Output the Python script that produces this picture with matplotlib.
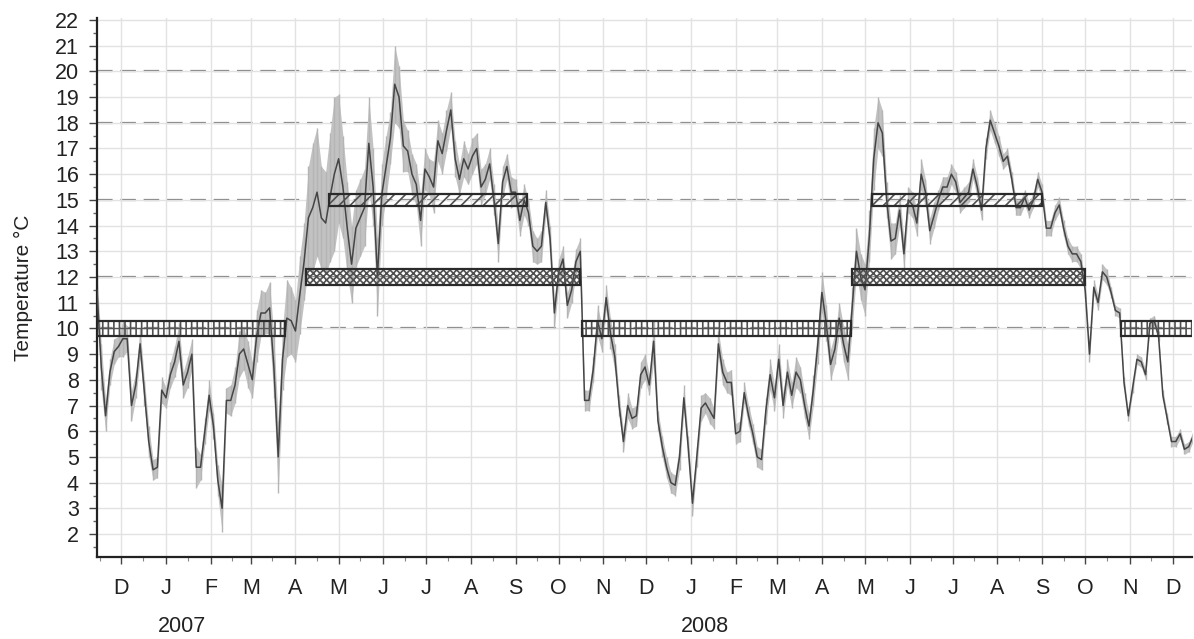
import matplotlib
matplotlib.use("Agg")

import matplotlib.pyplot as plt
import matplotlib.dates as mdates
from matplotlib.ticker import MultipleLocator, FuncFormatter
from matplotlib.transforms import blended_transform_factory
import numpy as np
import pandas as pd

plt.rcParams["font.family"] = ["Liberation Sans", "DejaVu Sans"]
plt.rcParams["hatch.linewidth"] = 1.2

# water temperature, sampled every 3 days from 2006-11-14
START_DATE = "2006-11-14"
STEP_DAYS = 3

temp_mean = [
    11.5, 8.5, 6.6, 8.3, 9.1, 9.3, 9.6, 9.6, 7.0, 7.8,
    9.4, 7.5, 5.6, 4.5, 4.6, 7.6, 7.3, 8.2, 8.7, 9.5,
    7.8, 8.3, 9.0, 4.6, 4.6, 6.0, 7.4, 6.2, 4.1, 3.0,
    7.2, 7.2, 7.8, 9.0, 9.2, 8.6, 8.0, 9.7, 10.6, 10.6,
    10.8, 8.5, 5.0, 8.8, 10.4, 10.3, 9.9, 11.3, 12.6,
    14.3, 14.7, 15.3, 14.3, 14.1, 15.1, 16.0, 16.6, 15.5, 13.9, 12.5,
    13.9, 14.3, 14.7, 17.2, 15.5, 12.0, 15.2, 16.3, 17.4, 19.5,
    19.0, 17.1, 16.9, 16.0, 15.6, 14.2, 16.2, 15.9, 15.5, 17.3,
    16.8, 17.7, 18.5, 16.6, 15.8, 16.6, 16.2, 16.7, 17.0, 15.5,
    15.8, 16.4, 15.0, 13.3, 15.7, 16.3, 15.3, 15.3, 14.2, 15.0,
    14.5, 13.2, 13.0, 13.2, 14.9, 13.5, 10.6, 12.2, 12.7, 10.9,
    11.5, 12.6, 13.0,
    7.2, 7.2, 8.4, 10.3, 9.6, 11.2, 9.8,
    8.9, 7.0, 5.6, 7.0, 6.5, 6.6, 8.2, 8.5, 7.8, 9.5,
    6.4, 5.4, 4.6, 4.0, 3.9, 5.0, 7.3, 5.4, 3.2, 5.0,
    6.9, 7.1, 6.8, 6.5, 9.4, 8.3, 7.9, 7.9, 5.9, 6.0,
    7.5, 6.6, 5.9, 5.0, 4.9, 6.8, 8.2, 7.3, 8.8, 7.0,
    8.3, 7.4, 8.3, 8.0, 7.0, 6.2, 7.6, 9.3, 11.4, 10.2,
    8.6, 9.2, 10.4, 9.4, 8.7, 10.8, 13.0, 12.0, 11.5,
    13.6, 16.6, 18.0, 17.6, 15.0, 13.4, 13.5, 14.6, 12.9, 15.0, 14.8,
    14.1, 16.0, 15.3, 13.8, 14.4, 15.0, 15.5, 15.5, 16.0, 15.7,
    14.9, 15.1, 15.3, 16.2, 15.5, 14.6, 17.0, 18.1, 17.6, 17.1,
    16.5, 16.7, 15.8, 14.7, 14.7, 15.1, 14.6, 15.0, 15.8, 15.3,
    13.9, 13.9, 14.5, 14.8, 13.9, 13.2, 12.9, 12.9, 12.6, 11.5,
    9.0, 11.6, 11.0, 12.2, 12.0, 11.4, 10.7, 10.6, 7.9, 6.6,
    7.7, 8.8, 8.7, 8.2, 10.2, 10.3, 9.7, 7.4, 6.5, 5.6,
    5.6, 5.9, 5.3, 5.4, 5.8,
]

# half width of the lighter min/max trace
temp_spread = [
    0.6, 0.9, 0.6, 0.5, 0.5, 0.4, 0.7, 0.5, 0.6, 0.5,
    0.6, 0.5, 0.6, 0.4, 0.4, 0.5, 0.4, 0.5, 0.6, 0.7,
    0.5, 0.6, 0.6, 0.8, 0.5, 0.5, 0.6, 0.5, 0.6, 0.9,
    0.5, 0.6, 0.7, 0.9, 0.8, 0.9, 0.7, 1.0, 0.9, 0.8,
    1.0, 1.2, 1.4, 1.2, 1.5, 1.3, 1.2, 1.5, 1.5, 2.0,
    2.5, 2.5, 2.0, 2.0, 2.5, 3.0, 2.5, 2.0, 1.8, 1.5,
    1.5, 1.5, 1.5, 1.8, 1.5, 1.5, 1.2, 1.2, 1.0, 1.5,
    1.2, 1.0, 0.8, 0.8, 0.8, 1.0, 0.8, 0.7, 1.0, 0.8,
    0.8, 0.8, 0.7, 0.7, 0.6, 0.7, 0.6, 0.7, 0.6, 0.7,
    0.6, 0.6, 0.6, 0.7, 0.6, 0.5, 0.6, 0.5, 0.6, 0.6,
    0.5, 0.6, 0.5, 0.6, 0.5, 0.5, 0.6, 0.5, 0.5, 0.5,
    0.5, 0.5, 0.5, 0.4, 0.4, 0.5, 0.6, 0.5, 0.5, 0.6,
    0.5, 0.4, 0.4, 0.5, 0.4, 0.4, 0.5, 0.5, 0.4, 0.8,
    0.4, 0.4, 0.4, 0.4, 0.4, 0.5, 0.5, 0.4, 0.5, 0.4,
    0.5, 0.4, 0.5, 0.4, 0.5, 0.5, 0.4, 0.5, 0.4, 0.4,
    0.4, 0.4, 0.4, 0.4, 0.4, 0.5, 0.6, 0.5, 0.6, 0.5,
    0.5, 0.5, 0.6, 0.5, 0.5, 0.5, 0.6, 0.7, 0.8, 0.7,
    0.6, 0.6, 0.6, 0.7, 0.7, 0.8, 0.9, 0.9, 1.0, 1.0,
    1.2, 1.0, 0.9, 0.7, 0.7, 0.6, 0.6, 0.6, 0.5, 0.5,
    0.5, 0.6, 0.5, 0.5, 0.5, 0.4, 0.4, 0.4, 0.4, 0.4,
    0.4, 0.4, 0.4, 0.4, 0.4, 0.4, 0.4, 0.4, 0.4, 0.4,
    0.3, 0.3, 0.3, 0.3, 0.3, 0.3, 0.3, 0.3, 0.3, 0.3,
    0.3, 0.3, 0.3, 0.3, 0.3, 0.3, 0.3, 0.3, 0.3, 0.3,
    0.3, 0.3, 0.3, 0.3, 0.3, 0.2, 0.2, 0.2, 0.2, 0.2,
    0.2, 0.2, 0.2, 0.2, 0.2, 0.2, 0.2, 0.2, 0.2, 0.2,
    0.2, 0.2, 0.2, 0.2, 0.2,
]

# threshold bands (temperature level, period)
band_levels = [10, 12, 15, 10, 12, 15, 10]
band_starts = ["2006-11-14", "2007-04-08", "2007-04-24", "2007-10-17",
               "2008-04-22", "2008-05-06", "2008-10-26"]
band_ends = ["2007-03-25", "2007-10-16", "2007-09-09", "2008-04-21",
             "2008-10-01", "2008-09-01", "2008-12-16"]
band_hatch = {10: "|||", 12: "xxxxx", 15: "///"}
band_half = {10: 0.3, 12: 0.3, 15: 0.24}

ref_levels = [10, 12, 15, 18, 20]

year_labels = ["2007", "2008"]
year_label_dates = ["2007-01-12", "2008-01-11"]

X_START = "2006-11-14"
X_END = "2008-12-14"

FONT_SIZE = 15.5


def main() -> None:
    dates = pd.date_range(START_DATE, periods=len(temp_mean), freq=f"{STEP_DAYS}D")
    mean = np.array(temp_mean)
    spread = np.array(temp_spread)

    fig = plt.figure(figsize=(11.94, 6.39), dpi=100)
    ax = fig.add_axes([0.0812, 0.128, 0.9168, 0.844])

    ax.set_xlim(pd.Timestamp(X_START), pd.Timestamp(X_END))
    ax.set_ylim(1.1, 22.08)

    ax.grid(True, which="major", color="#e2e2e2", linewidth=1.0, zorder=0)

    for lvl in ref_levels:
        ax.axhline(lvl, color="#7d7d7d", linewidth=1.6, dashes=(7, 3.5), zorder=1)

    ax.fill_between(dates, mean - spread, mean + spread, color="#c2c2c2",
                    linewidth=0, zorder=2)
    ax.vlines(dates, mean - spread, mean + spread, color="#b5b5b5",
              linewidth=1.0, zorder=2)
    ax.plot(dates, mean, color="#454545", linewidth=1.1, zorder=3)

    for lvl, s, e in zip(band_levels, band_starts, band_ends):
        x0 = mdates.date2num(pd.Timestamp(s))
        x1 = mdates.date2num(pd.Timestamp(e))
        h = band_half[lvl]
        ax.add_patch(plt.Rectangle((x0, lvl - h), x1 - x0, 2 * h,
                                   facecolor="none", edgecolor="#505050",
                                   hatch=band_hatch[lvl], linewidth=0, zorder=4))
        ax.add_patch(plt.Rectangle((x0, lvl - h), x1 - x0, 2 * h,
                                   facecolor="none", edgecolor="#2a2a2a",
                                   linewidth=1.6, zorder=5))
        if lvl == 10:
            ax.plot([x0, x1], [lvl, lvl], color="#555555", linewidth=1.0, zorder=4)

    for side in ["top", "right"]:
        ax.spines[side].set_visible(False)
    for side in ["left", "bottom"]:
        ax.spines[side].set_linewidth(1.6)
        ax.spines[side].set_color("#222222")

    ax.yaxis.set_minor_locator(MultipleLocator(0.5))
    ax.set_yticks(range(2, 23))
    ax.xaxis.set_major_locator(mdates.MonthLocator())
    ax.xaxis.set_minor_locator(mdates.MonthLocator(bymonthday=16))
    ax.xaxis.set_major_formatter(
        FuncFormatter(lambda v, pos: mdates.num2date(v).strftime("%b")[0]))

    ax.tick_params(axis="both", which="major", labelsize=FONT_SIZE, color="#444444",
                   labelcolor="#222222")
    ax.tick_params(axis="y", which="major", length=6, width=1.0, pad=7)
    ax.tick_params(axis="y", which="minor", length=3, width=1.0, color="#666666")
    ax.tick_params(axis="x", which="major", length=5, width=1.0, pad=10)
    ax.tick_params(axis="x", which="minor", length=3, width=0.8, color="#888888")

    ax.set_ylabel("Temperature °C", fontsize=FONT_SIZE - 0.5, color="#222222",
                  labelpad=16)

    trans = blended_transform_factory(ax.transData, ax.transAxes)
    for label, d in zip(year_labels, year_label_dates):
        ax.text(pd.Timestamp(d), -0.128, label, transform=trans, ha="center",
                va="center", fontsize=FONT_SIZE, color="#222222")

    fig.savefig("out.png", dpi=100)
    plt.close(fig)


if __name__ == "__main__":
    main()
